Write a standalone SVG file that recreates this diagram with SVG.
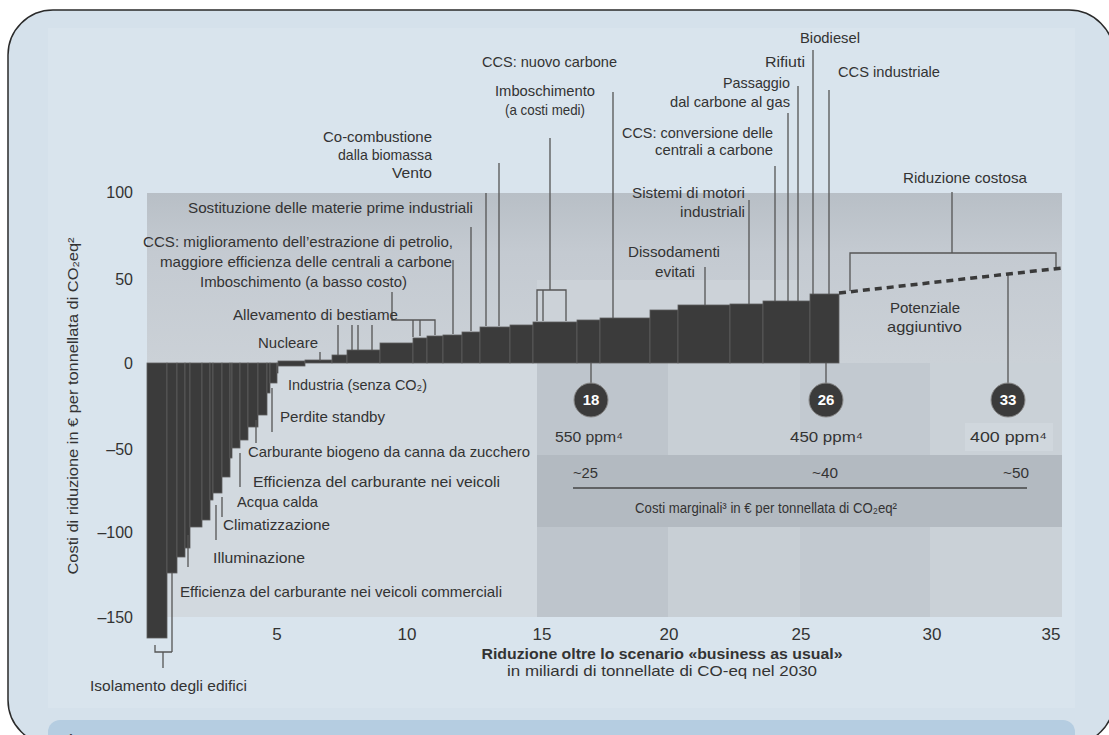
<svg xmlns="http://www.w3.org/2000/svg" width="1109" height="735" viewBox="0 0 1109 735">
<defs>
<style>
text{font-family:"Liberation Sans","DejaVu Sans",Arial,sans-serif;fill:#333;}
.lb{font-size:15px;}
.tk{font-size:16px;}
.tx{font-size:17px;text-anchor:middle;}
.ld{stroke:#555;stroke-width:1.3;fill:none;}
.bar rect{fill:#3b3b3b;stroke:#5e5e5e;stroke-width:0.8;}
.cn{font-size:15px;font-weight:bold;fill:#fff;text-anchor:middle;}
</style>
<linearGradient id="gUp" x1="0" y1="0" x2="0" y2="1">
<stop offset="0" stop-color="#b8bfc6"/>
<stop offset="0.35" stop-color="#c4cad1"/>
<stop offset="1" stop-color="#cbd1d7"/>
</linearGradient>
</defs>
<rect x="0" y="0" width="1109" height="735" fill="#ffffff"/>
<g id="frame">
<rect x="8" y="10" width="1106" height="735" rx="45" ry="45" fill="#d5e1eb" stroke="#2a2a2a" stroke-width="1.5"/>
<rect x="48" y="28" width="1027" height="680" fill="#d9e4ed"/>
<rect x="48" y="720" width="1027" height="40" rx="12" fill="#b5cde1"/>
<text x="55" y="750" style="font-size:22px;fill:#444">Figura 3</text>
</g>
<g id="plot-bg">
<rect x="147" y="193" width="915" height="424" fill="#c6cdd4"/>
<rect x="147" y="193" width="915" height="170" fill="url(#gUp)"/>
<rect x="537" y="280" width="263" height="83" fill="#ccd2d8"/>
<rect x="147" y="363" width="390" height="254" fill="#d2d9df"/>
<rect x="537" y="363" width="131" height="254" fill="#bec5cc"/>
<rect x="668" y="363" width="132" height="254" fill="#c8cfd5"/>
<rect x="800" y="363" width="130" height="254" fill="#c2c9d0"/>
<rect x="930" y="363" width="132" height="254" fill="#cad1d7"/>
<rect x="537" y="455" width="525" height="72" fill="#b3bac1"/>
<rect x="965" y="423" width="88" height="28" fill="#d0d7dd"/>
</g>
<g id="bars" class="bar">
<rect x="147" y="363" width="20" height="275"/>
<rect x="167" y="363" width="10" height="210"/>
<rect x="177" y="363" width="8" height="194"/>
<rect x="185" y="363" width="5" height="185"/>
<rect x="190" y="363" width="12" height="164"/>
<rect x="202" y="363" width="8" height="157"/>
<rect x="210" y="363" width="3" height="137"/>
<rect x="213" y="363" width="9" height="130"/>
<rect x="222" y="363" width="8" height="114"/>
<rect x="230" y="363" width="2" height="95"/>
<rect x="232" y="363" width="8" height="85"/>
<rect x="240" y="363" width="8" height="77"/>
<rect x="248" y="363" width="10" height="64"/>
<rect x="258" y="363" width="9" height="52"/>
<rect x="267" y="363" width="3" height="30"/>
<rect x="270" y="363" width="7" height="20"/>
<rect x="277" y="363" width="1" height="10"/>
<rect x="278" y="361" width="27" height="5"/>
<rect x="305" y="360" width="27" height="3"/>
<rect x="332" y="355" width="15" height="8"/>
<rect x="347" y="350" width="33" height="13"/>
<rect x="380" y="343" width="33" height="20"/>
<rect x="413" y="338" width="14" height="25"/>
<rect x="427" y="336" width="16" height="27"/>
<rect x="443" y="335" width="19" height="28"/>
<rect x="462" y="332" width="18" height="31"/>
<rect x="480" y="327" width="30" height="36"/>
<rect x="510" y="325" width="23" height="38"/>
<rect x="533" y="322" width="44" height="41"/>
<rect x="577" y="320" width="23" height="43"/>
<rect x="600" y="318" width="50" height="45"/>
<rect x="650" y="310" width="28" height="53"/>
<rect x="678" y="305" width="52" height="58"/>
<rect x="730" y="304" width="33" height="59"/>
<rect x="763" y="301" width="47" height="62"/>
<rect x="810" y="294" width="29" height="69"/>
</g>
<g id="connectors">
<path class="ld" d="M813,50V294 M798,86V301 M829,90V294 M788,113V301 M775,166V301 M749,200V304 M705,267V305 M613,92V318"/>
<path class="ld" d="M550,138V290 M537,321V290H566V321 M543,290V321"/>
<path class="ld" d="M499,163V326 M486,193V326 M471,227V331 M453,260V334"/>
<path class="ld" d="M392,292V320H435V335 M413,320V337 M420,320V336"/>
<path class="ld" d="M338,325V355 M352,325V350 M358,325V350 M372,325V350 M320,352V361"/>
<path class="ld" d="M272,388V432 M256,420V443 M240,453V487 M222,497V517 M216,505V540 M188,535V567 M172,573V652"/>
<path class="ld" d="M155,645V652H172 M163,652V668"/>
<path class="ld" d="M591,363V383 M826,363V383 M1008,275V383"/>
<path class="ld" d="M952,192V253 M850,291V253H1056V268"/>
<path d="M839,293L1062,268" stroke="#3a3a3a" stroke-width="3.5" stroke-dasharray="7 5" fill="none"/>
<path d="M573,488H1027" stroke="#444" stroke-width="1.5" fill="none"/>
</g>
<g id="axes">
<text class="tk" x="133" y="198" text-anchor="end">100</text>
<text class="tk" x="133" y="285" text-anchor="end">50</text>
<text class="tk" x="133" y="369" text-anchor="end">0</text>
<text class="tk" x="133" y="455" text-anchor="end">–50</text>
<text class="tk" x="133" y="538" text-anchor="end">–100</text>
<text class="tk" x="133" y="623" text-anchor="end">–150</text>
<text class="tx" x="277" y="640">5</text>
<text class="tx" x="407" y="640">10</text>
<text class="tx" x="542" y="640">15</text>
<text class="tx" x="669" y="640">20</text>
<text class="tx" x="801" y="640">25</text>
<text class="tx" x="932" y="640">30</text>
<text class="tx" x="1051" y="640">35</text>
<text x="662" y="659" text-anchor="middle" textLength="361" lengthAdjust="spacingAndGlyphs" style="font-size:15px;font-weight:bold">Riduzione oltre lo scenario «business as usual»</text>
<text x="662" y="676" text-anchor="middle" textLength="310" lengthAdjust="spacingAndGlyphs" style="font-size:15px">in miliardi di tonnellate di CO-eq nel 2030</text>
<text transform="translate(78,406) rotate(-90)" text-anchor="middle" textLength="337" lengthAdjust="spacingAndGlyphs" style="font-size:15px">Costi di riduzione in € per tonnellata di CO₂eq²</text>
</g>
<g id="labels" class="lb">
<text class="lb" x="800" y="43" textLength="60" lengthAdjust="spacingAndGlyphs">Biodiesel</text>
<text class="lb" x="765" y="67" textLength="40" lengthAdjust="spacingAndGlyphs">Rifiuti</text>
<text class="lb" x="838" y="77" textLength="102" lengthAdjust="spacingAndGlyphs">CCS industriale</text>
<text class="lb" x="723" y="88" textLength="67" lengthAdjust="spacingAndGlyphs">Passaggio</text>
<text class="lb" x="670" y="107" textLength="120" lengthAdjust="spacingAndGlyphs">dal carbone al gas</text>
<text class="lb" x="482" y="67" textLength="135" lengthAdjust="spacingAndGlyphs">CCS: nuovo carbone</text>
<text class="lb" x="495" y="96" textLength="100" lengthAdjust="spacingAndGlyphs">Imboschimento</text>
<text class="lb" x="505" y="115" textLength="80" lengthAdjust="spacingAndGlyphs">(a costi medi)</text>
<text class="lb" x="622" y="138" textLength="151" lengthAdjust="spacingAndGlyphs">CCS: conversione delle</text>
<text class="lb" x="655" y="155" textLength="118" lengthAdjust="spacingAndGlyphs">centrali a carbone</text>
<text class="lb" x="323" y="142" textLength="109" lengthAdjust="spacingAndGlyphs">Co-combustione</text>
<text class="lb" x="338" y="160" textLength="94" lengthAdjust="spacingAndGlyphs">dalla biomassa</text>
<text class="lb" x="392" y="178" textLength="40" lengthAdjust="spacingAndGlyphs">Vento</text>
<text class="lb" x="188" y="213" textLength="285" lengthAdjust="spacingAndGlyphs">Sostituzione delle materie prime industriali</text>
<text class="lb" x="903" y="183" textLength="124" lengthAdjust="spacingAndGlyphs">Riduzione costosa</text>
<text class="lb" x="632" y="198" textLength="113" lengthAdjust="spacingAndGlyphs">Sistemi di motori</text>
<text class="lb" x="680" y="217" textLength="65" lengthAdjust="spacingAndGlyphs">industriali</text>
<text class="lb" x="143" y="247" textLength="310" lengthAdjust="spacingAndGlyphs">CCS: miglioramento dell’estrazione di petrolio,</text>
<text class="lb" x="160" y="267" textLength="292" lengthAdjust="spacingAndGlyphs">maggiore efficienza delle centrali a carbone</text>
<text class="lb" x="200" y="287" textLength="207" lengthAdjust="spacingAndGlyphs">Imboschimento (a basso costo)</text>
<text class="lb" x="628" y="257" textLength="92" lengthAdjust="spacingAndGlyphs">Dissodamenti</text>
<text class="lb" x="655" y="277" textLength="40" lengthAdjust="spacingAndGlyphs">evitati</text>
<text class="lb" x="233" y="320" textLength="165" lengthAdjust="spacingAndGlyphs">Allevamento di bestiame</text>
<text class="lb" x="258" y="348" textLength="60" lengthAdjust="spacingAndGlyphs">Nucleare</text>
<text class="lb" x="288" y="390" textLength="139" lengthAdjust="spacingAndGlyphs">Industria (senza CO₂)</text>
<text class="lb" x="280" y="422" textLength="105" lengthAdjust="spacingAndGlyphs">Perdite standby</text>
<text class="lb" x="248" y="457" textLength="282" lengthAdjust="spacingAndGlyphs">Carburante biogeno da canna da zucchero</text>
<text class="lb" x="253" y="487" textLength="247" lengthAdjust="spacingAndGlyphs">Efficienza del carburante nei veicoli</text>
<text class="lb" x="237" y="507" textLength="81" lengthAdjust="spacingAndGlyphs">Acqua calda</text>
<text class="lb" x="223" y="530" textLength="107" lengthAdjust="spacingAndGlyphs">Climatizzazione</text>
<text class="lb" x="213" y="563" textLength="92" lengthAdjust="spacingAndGlyphs">Illuminazione</text>
<text class="lb" x="180" y="597" textLength="322" lengthAdjust="spacingAndGlyphs">Efficienza del carburante nei veicoli commerciali</text>
<text class="lb" x="90" y="691" textLength="157" lengthAdjust="spacingAndGlyphs">Isolamento degli edifici</text>
<text class="lb" x="890" y="313" textLength="70" lengthAdjust="spacingAndGlyphs">Potenziale</text>
<text class="lb" x="887" y="332" textLength="75" lengthAdjust="spacingAndGlyphs">aggiuntivo</text>
</g>
<g id="scenarios">
<g id="s18"><circle cx="591" cy="400" r="17" fill="#3b3b3b" stroke="#8a8a8a" stroke-width="1"/><text class="cn" x="591" y="405">18</text></g>
<g id="s26"><circle cx="826" cy="400" r="17" fill="#3b3b3b" stroke="#8a8a8a" stroke-width="1"/><text class="cn" x="826" y="405">26</text></g>
<g id="s33"><circle cx="1008" cy="400" r="17" fill="#3b3b3b" stroke="#8a8a8a" stroke-width="1"/><text class="cn" x="1008" y="405">33</text></g>
<text class="lb" x="555" y="442" textLength="68" lengthAdjust="spacingAndGlyphs">550 ppm⁴</text>
<text class="lb" x="790" y="442" textLength="73" lengthAdjust="spacingAndGlyphs">450 ppm⁴</text>
<text class="lb" x="970" y="442" textLength="77" lengthAdjust="spacingAndGlyphs">400 ppm⁴</text>
<text class="lb" x="573" y="478" textLength="25" lengthAdjust="spacingAndGlyphs">~25</text>
<text class="lb" x="812" y="478" textLength="26" lengthAdjust="spacingAndGlyphs">~40</text>
<text class="lb" x="1003" y="478" textLength="26" lengthAdjust="spacingAndGlyphs">~50</text>
<text class="lb" x="635" y="513" textLength="262" lengthAdjust="spacingAndGlyphs">Costi marginali³ in € per tonnellata di CO₂eq²</text>
</g>
</svg>
